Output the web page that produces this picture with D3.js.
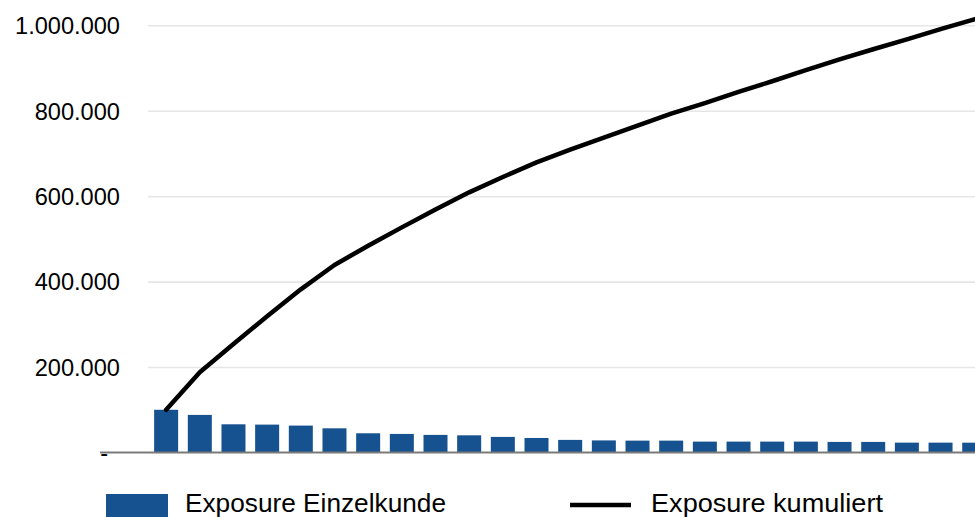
<!DOCTYPE html>
<html>
<head>
<meta charset="utf-8">
<script src="https://cdn.jsdelivr.net/npm/d3@7"></script>
<style>
  html, body { margin: 0; padding: 0; background: #ffffff; overflow: hidden; }
  svg { display: block; font-family: "Liberation Sans", Arial, sans-serif; }
</style>
</head>
<body>
<svg id="chart" width="975" height="517"></svg>
<script>
// ---- data ----
const categories = ["1","2","3","4","5","6","7","8","9","10","11","12","13","14","15","16","17","18","19","20","21","22","23","24","25"];
const exposureEinzelkunde = [100000, 88000, 66000, 65300, 63000, 56600, 45000, 43500, 41200, 40200, 36500, 34000, 29500, 28300, 27800, 27800, 25500, 25500, 25500, 25500, 24800, 24800, 23100, 23100, 23000];
const exposureKumuliert = [100000, 188000, 254000, 319000, 382000, 439000, 484000, 527000, 569000, 609000, 645000, 679000, 709000, 737000, 765000, 793000, 818000, 844000, 869000, 895000, 920000, 944000, 967000, 991000, 1014000];
const yTicks = [0, 200000, 400000, 600000, 800000, 1000000];
const seriesNames = ["Exposure Einzelkunde", "Exposure kumuliert"];

// ---- layout ----
const W = 975, H = 517;
const plotLeft = 148, plotRight = W;
const svg = d3.select("#chart");

const step = 33.67;
const inner = 1 - 24 / step;
const x = d3.scaleBand()
  .domain(categories)
  .range([149.3, 149.3 + step * categories.length])
  .paddingInner(inner)
  .paddingOuter(inner / 2);

const y = d3.scaleLinear().domain([0, 1000000]).range([452.5, 25.3]);

const de = d3.formatLocale({decimal: ",", thousands: ".", grouping: [3], currency: ["", " €"]});
const fmt = de.format(",.0f");

// ---- y axis with gridlines ----
const yAxis = d3.axisLeft(y)
  .tickValues(yTicks)
  .tickSize(-(plotRight - plotLeft))
  .tickPadding(28)
  .tickFormat(d => d === 0 ? "-" : fmt(d));

const gy = svg.append("g")
  .attr("transform", `translate(${plotLeft},0)`)
  .call(yAxis);
gy.select(".domain").remove();
gy.selectAll(".tick line")
  .attr("stroke", "#e6e6e6")
  .attr("stroke-width", 1.6)
  .attr("stroke-opacity", d => d === 0 ? 0 : 1);
gy.selectAll(".tick text")
  .attr("fill", "#000")
  .attr("font-size", "23.6px")
  .attr("dy", "0.35em")
  .attr("x", d => d === 0 ? -40 : -28);

// ---- bars ----
svg.append("g")
  .selectAll("rect")
  .data(exposureEinzelkunde)
  .join("rect")
  .attr("x", (d, i) => x(categories[i]))
  .attr("y", d => y(d))
  .attr("width", x.bandwidth())
  .attr("height", d => y(0) - y(d))
  .attr("fill", "#16528f");

// ---- category axis line ----
svg.append("line")
  .attr("x1", 100).attr("x2", W)
  .attr("y1", y(0)).attr("y2", y(0))
  .attr("stroke", "#7a7a7a")
  .attr("stroke-width", 1.8);

// ---- cumulative line ----
const line = d3.line()
  .x((d, i) => x(categories[i]) + x.bandwidth() / 2)
  .y(d => y(d));

svg.append("path")
  .datum(exposureKumuliert)
  .attr("d", line)
  .attr("fill", "none")
  .attr("stroke", "#000")
  .attr("stroke-width", 4.5)
  .attr("stroke-linejoin", "round")
  .attr("stroke-linecap", "round");

// ---- legend ----
const lg = svg.append("g").attr("font-size", "26px").attr("fill", "#000");
lg.append("rect")
  .attr("x", 106).attr("y", 494)
  .attr("width", 62).attr("height", 23)
  .attr("fill", "#16528f");
lg.append("text")
  .attr("x", 185).attr("y", 512)
  .attr("textLength", 261)
  .attr("lengthAdjust", "spacingAndGlyphs")
  .text(seriesNames[0]);
lg.append("line")
  .attr("x1", 570).attr("x2", 631)
  .attr("y1", 505).attr("y2", 505)
  .attr("stroke", "#000")
  .attr("stroke-width", 4.5);
lg.append("text")
  .attr("x", 651).attr("y", 512)
  .attr("textLength", 232)
  .attr("lengthAdjust", "spacingAndGlyphs")
  .text(seriesNames[1]);
</script>
</body>
</html>
